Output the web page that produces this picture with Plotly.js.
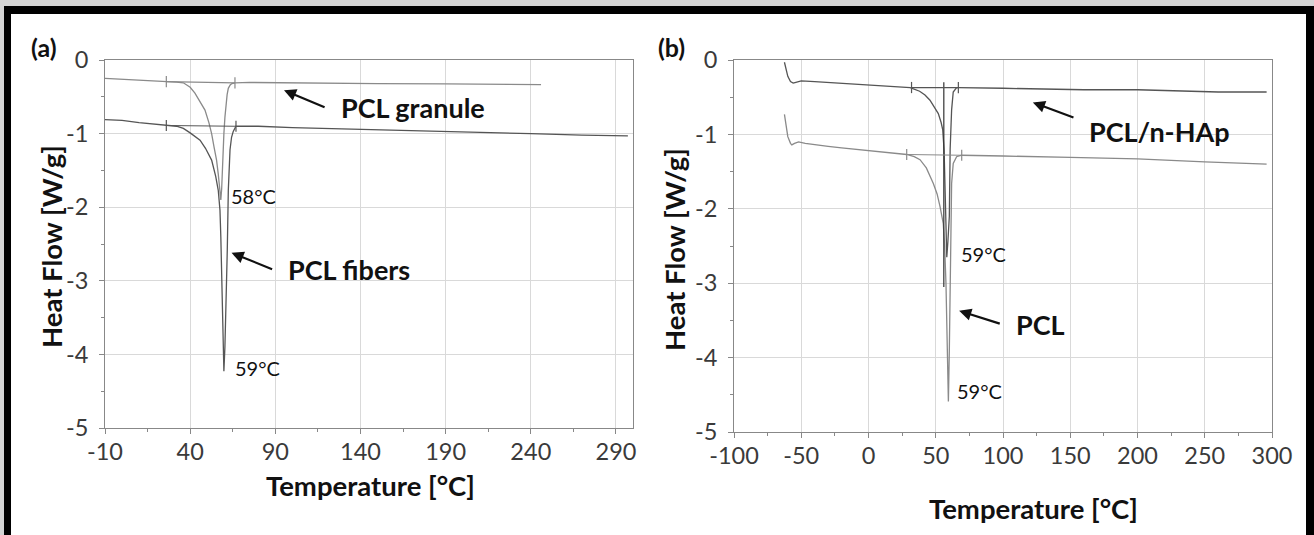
<!DOCTYPE html>
<html>
<head>
<meta charset="utf-8">
<script src="https://cdn.plot.ly/plotly-3.0.1.min.js"></script>
<style>
html,body{margin:0;padding:0;background:#d4d4d4;}
#chart{width:1314px;height:535px;}
</style>
</head>
<body>
<div id="chart"></div>
<script>
// ---------- Panel (a): DSC of PCL granule and PCL fibers ----------
const granX = [-10, 0, 10, 20, 26, 32, 36, 40, 42.8, 45, 48.7, 51, 52.6, 54, 55.5, 56.5, 57.3, 58, 58.5, 58.9, 59.4, 59.8, 60.4, 61, 61.7, 62.4, 63.5, 64.5, 66.3, 75, 90, 110, 150, 190, 220, 246];
const granY = [-0.25, -0.26, -0.27, -0.285, -0.295, -0.3, -0.31, -0.37, -0.45, -0.53, -0.68, -0.85, -1.0, -1.18, -1.36, -1.55, -1.72, -1.9, -1.75, -1.45, -1.2, -1.0, -0.78, -0.59, -0.47, -0.385, -0.34, -0.32, -0.31, -0.305, -0.31, -0.31, -0.32, -0.325, -0.33, -0.335];
const fibX = [-10, 0, 10, 20, 26, 32, 36, 40, 45.8, 49, 52.6, 55, 56.5, 57.5, 58, 58.5, 59, 59.4, 59.8, 60.4, 61, 61.8, 62.4, 63.4, 64.3, 65.3, 66.9, 80, 100, 140, 190, 240, 270, 297];
const fibY = [-0.81, -0.82, -0.85, -0.87, -0.89, -0.9, -0.93, -0.99, -1.09, -1.2, -1.36, -1.58, -1.77, -2.04, -2.4, -3.03, -3.5, -3.94, -4.23, -3.9, -3.4, -2.58, -1.77, -1.22, -1.05, -0.97, -0.9, -0.9, -0.92, -0.94, -0.97, -1.0, -1.02, -1.03];
const granBaseX = [26, 66.3];
const granBaseY = [-0.295, -0.31];
const fibBaseX = [26, 66.9];
const fibBaseY = [-0.89, -0.9];

// ---------- Panel (b): DSC of PCL/n-HAp and PCL ----------
const hapX = [-62.5, -61.5, -60, -58, -56, -54, -50, -40, -30, -20, -10, 0, 10, 20, 31, 38, 42, 45.7, 49, 51.9, 54, 55.2, 56.2, 56.9, 57.6, 58.2, 59, 60.1, 60.7, 61.3, 61.8, 63, 65.5, 66.8, 80, 100, 130, 160, 200, 240, 260, 296];
const hapY = [-0.03, -0.1, -0.22, -0.29, -0.31, -0.3, -0.28, -0.29, -0.3, -0.31, -0.32, -0.33, -0.34, -0.35, -0.37, -0.42, -0.47, -0.54, -0.64, -0.72, -0.84, -0.94, -1.21, -1.9, -2.55, -2.65, -2.45, -2.1, -1.2, -0.9, -0.67, -0.43, -0.37, -0.37, -0.37, -0.38, -0.39, -0.4, -0.4, -0.42, -0.43, -0.43];
const hapDropX = [56, 56];
const hapDropY = [-0.3, -3.05];
const pclX = [-62.5, -61.5, -60, -58, -57, -55, -52, -47, -40, -30, -20, -10, 0, 10, 20, 28.4, 34, 38.3, 43, 48.2, 51, 53.2, 55.6, 56.6, 57.6, 58.6, 59.4, 60.1, 60.6, 61.1, 61.8, 63, 65.5, 69.3, 80, 100, 150, 200, 250, 296];
const pclY = [-0.73, -0.85, -1.03, -1.12, -1.14, -1.12, -1.1, -1.12, -1.14, -1.16, -1.18, -1.2, -1.21, -1.23, -1.25, -1.27, -1.3, -1.34, -1.45, -1.66, -1.8, -1.97, -2.2, -2.5, -3.0, -3.9, -4.59, -3.9, -3.0, -2.1, -1.66, -1.39, -1.3, -1.28, -1.28, -1.29, -1.31, -1.33, -1.37, -1.4];
const hapBaseX = [32, 66.8];
const hapBaseY = [-0.37, -0.37];
const pclBaseX = [28.4, 69.3];
const pclBaseY = [-1.27, -1.28];

// ---------- Ticks ----------
const xTickValsA = [-10, 40, 90, 140, 190, 240, 290];
const xTickTextA = ["-10", "40", "90", "140", "190", "240", "290"];
const xTickValsB = [-100, -50, 0, 50, 100, 150, 200, 250, 300];
const xTickTextB = ["-100", "-50", "0", "50", "100", "150", "200", "250", "300"];
const yTickVals = [0, -1, -2, -3, -4, -5];
const yTickText = ["0", "-1", "-2", "-3", "-4", "-5"];

// ---------- Text ----------
const panelLabels = ["(a)", "(b)"];
const xTitle = "Temperature [°C]";
const yTitle = "Heat Flow [W/g]";
const seriesLabelsA = ["PCL granule", "PCL fibers"];
const seriesLabelsB = ["PCL/n-HAp", "PCL"];
const peakLabelsA = ["58°C", "59°C"];
const peakLabelsB = ["59°C", "59°C"];

const LIGHT = '#8a8a8a', DARK = '#555555';
const FONT = 'Lato, "Open Sans", sans-serif';

function line(x, y, color, xa, ya, w) {
  return {x: x, y: y, type: 'scatter', mode: 'lines', xaxis: xa, yaxis: ya,
          line: {color: color, width: w || 1.3}, hoverinfo: 'skip', showlegend: false};
}
function base(x, y, color, xa, ya) {
  return {x: x, y: y, type: 'scatter', mode: 'lines+markers', xaxis: xa, yaxis: ya,
          line: {color: color, width: 1.2},
          marker: {symbol: 'line-ns-open', size: 8, line: {color: color, width: 1.2}},
          hoverinfo: 'skip', showlegend: false};
}

const traces = [
  line(granX, granY, LIGHT, 'x', 'y'),
  line(fibX, fibY, DARK, 'x', 'y'),
  base(granBaseX, granBaseY, LIGHT, 'x', 'y'),
  base(fibBaseX, fibBaseY, DARK, 'x', 'y'),
  line(pclX, pclY, LIGHT, 'x2', 'y2'),
  line(hapX, hapY, DARK, 'x2', 'y2'),
  line(hapDropX, hapDropY, '#333333', 'x2', 'y2', 1.2),
  base(hapBaseX, hapBaseY, DARK, 'x2', 'y2'),
  base(pclBaseX, pclBaseY, LIGHT, 'x2', 'y2')
];

const tickFont = {family: FONT, size: 23.5, color: '#3a3a3a'};
function xax(domain, range, tick0, vals, text, yanchor) {
  return {domain: domain, range: range, anchor: yanchor, tickmode: 'array', tickvals: vals, ticktext: text,
          ticks: 'outside', ticklen: 5, tickcolor: '#888', tickwidth: 1,
          showgrid: true, gridcolor: '#d9d9d9', gridwidth: 1,
          showline: true, linecolor: '#888', linewidth: 1, mirror: true, zeroline: false,
          tickfont: tickFont, ticklabelstandoff: -2,
          minor: {tickmode: 'linear', ticks: 'outside', ticklen: 3, tick0: tick0, dtick: 25, tickcolor: '#888', showgrid: false}};
}
function yax(domain, xanchor) {
  return {domain: domain, range: [-5, 0], anchor: xanchor, tickmode: 'array', tickvals: yTickVals, ticktext: yTickText,
          ticks: 'outside', ticklen: 5, tickcolor: '#888', tickwidth: 1,
          showgrid: true, gridcolor: '#d9d9d9', gridwidth: 1,
          showline: true, linecolor: '#888', linewidth: 1, mirror: true, zeroline: false,
          tickfont: tickFont, ticklabelstandoff: 6,
          minor: {tickmode: 'linear', ticks: 'outside', ticklen: 3, tick0: 0, dtick: 0.5, tickcolor: '#888', showgrid: false}};
}

function arrow(xref, yref, hx, hy, tx, ty) {
  return {xref: xref, yref: yref, axref: xref, ayref: yref, x: hx, y: hy, ax: tx, ay: ty,
          text: '', showarrow: true, arrowhead: 2, arrowsize: 1.1, arrowwidth: 2.2, arrowcolor: '#111', standoff: 0, startstandoff: 0};
}
function label(xref, yref, x, y, text, size, bold) {
  return {xref: xref, yref: yref, x: x, y: y, text: bold ? '<b>' + text + '</b>' : text, showarrow: false,
          xanchor: 'left', yanchor: 'middle', font: {family: FONT, size: size, color: '#111'}};
}
function paperText(x, y, text, size, angle) {
  return {xref: 'paper', yref: 'paper', x: x, y: y, text: '<b>' + text + '</b>', showarrow: false,
          xanchor: 'center', yanchor: 'middle', textangle: angle || 0,
          font: {family: FONT, size: size, color: '#111'}};
}

const annotations = [
  paperText(44 / 1314, 1 - 47 / 535, panelLabels[0], 25),
  paperText(671 / 1314, 1 - 47 / 535, panelLabels[1], 25),
  paperText(51 / 1314, 1 - 247 / 535, yTitle, 27.5, -90),
  paperText(674 / 1314, 1 - 250 / 535, yTitle, 27.5, -90),
  paperText(370 / 1314, 1 - 485 / 535, xTitle, 27.5),
  paperText(1033 / 1314, 1 - 508 / 535, xTitle, 27.5),
  arrow('x', 'y', 95.1, -0.41, 119.8, -0.65),
  arrow('x', 'y', 64.3, -2.62, 89, -2.85),
  label('x', 'y', 127.4, -0.645, seriesLabelsA[0], 27, true),
  label('x', 'y', 96.3, -2.85, seriesLabelsA[1], 27, true),
  label('x', 'y', 62.8, -1.85, peakLabelsA[0], 20, false),
  label('x', 'y', 65, -4.18, peakLabelsA[1], 20, false),
  arrow('x2', 'y2', 122.2, -0.57, 153.5, -0.78),
  arrow('x2', 'y2', 67.4, -3.37, 98.7, -3.55),
  label('x2', 'y2', 162.8, -0.96, seriesLabelsB[0], 27, true),
  label('x2', 'y2', 108, -3.55, seriesLabelsB[1], 27, true),
  label('x2', 'y2', 67.3, -2.61, peakLabelsB[0], 20, false),
  label('x2', 'y2', 64.3, -4.45, peakLabelsB[1], 20, false)
];

const W = 1314, H = 535;
const shapes = [
  {type: 'rect', xref: 'paper', yref: 'paper', x0: 4 / W, x1: 1, y0: 0, y1: 1 - 6 / H,
   fillcolor: '#000', line: {width: 0}, layer: 'below'},
  {type: 'rect', xref: 'paper', yref: 'paper', x0: 11 / W, x1: 1306 / W, y0: 0, y1: 1 - 14 / H,
   fillcolor: '#fff', line: {width: 0}, layer: 'below'}
];

const layout = {
  width: W, height: H,
  margin: {l: 0, r: 0, t: 0, b: 0, autoexpand: false},
  paper_bgcolor: '#d4d4d4', plot_bgcolor: 'rgba(0,0,0,0)',
  showlegend: false,
  font: {family: FONT},
  xaxis: xax([105 / W, 633 / W], [-10, 300], -10, xTickValsA, xTickTextA, 'y'),
  yaxis: yax([1 - 428 / H, 1 - 60 / H], 'x'),
  xaxis2: xax([734 / W, 1272 / W], [-100, 300], -100, xTickValsB, xTickTextB, 'y2'),
  yaxis2: yax([1 - 432 / H, 1 - 60 / H], 'x2'),
  annotations: annotations,
  shapes: shapes
};

Plotly.newPlot('chart', traces, layout, {staticPlot: true, displayModeBar: false});
</script>
</body>
</html>
